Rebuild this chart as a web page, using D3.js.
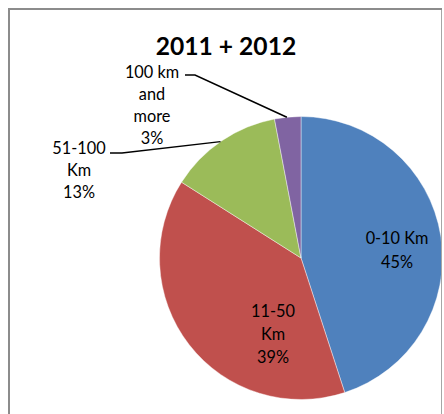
<!DOCTYPE html>
<html>
<head>
<meta charset="utf-8">
<script src="https://cdn.jsdelivr.net/npm/d3@7"></script>
<style>
  html, body { margin: 0; padding: 0; background: #fff; }
  svg { display: block; }
</style>
</head>
<body>
<svg id="chart" width="444" height="414"></svg>
<script>
// Distance bands and their shares (%), clockwise from 12 o'clock
const categories = ["0-10 Km", "11-50 Km", "51-100 Km", "100 km and more"];
const shares = [45, 39, 13, 3];
const colors = ["#4F81BD", "#C0504D", "#9BBB59", "#8064A2"];
// Label text lines for each slice (last line is the percentage)
const labelLines = [["0-10 Km"], ["11-50", "Km"], ["51-100", "Km"], ["100 km", "and", "more"]];
const title = "2011 + 2012";

const W = 444, H = 414;
const cx = 301, cy = 258, R = 141.5;
const font = "Lato, 'Open Sans', sans-serif";

const svg = d3.select("#chart");

// Plot area clip (chart frame)
svg.append("defs").append("clipPath").attr("id", "frame")
  .append("rect").attr("x", 10).attr("y", 10).attr("width", 431).attr("height", H);

const pie = d3.pie().sort(null).value(d => d.value);
const arcs = pie(categories.map((c, i) => ({ name: c, value: shares[i], i })));
const arc = d3.arc().innerRadius(0).outerRadius(R);

const g = svg.append("g").attr("clip-path", "url(#frame)")
  .append("g").attr("transform", `translate(${cx},${cy})`);

g.selectAll("path.slice").data(arcs).enter().append("path")
  .attr("class", "slice")
  .attr("d", arc)
  .attr("fill", d => colors[d.data.i])
  .attr("stroke", "#ffffff")
  .attr("stroke-width", 0.6)
  .attr("stroke-opacity", 0.7);

// Label placement: inside labels over their slices, outside ones with leaders
const labelPos = [
  { x: 397, y: 238, lh: 24 },
  { x: 273, y: 311, lh: 23 },
  { x: 79, y: 148, lh: 22 },
  { x: 152, y: 72, lh: 22 }
];

const labels = svg.append("g").attr("font-family", font).attr("font-size", 16.3).attr("fill", "#000");
arcs.forEach((a, k) => {
  const p = labelPos[k];
  const lines = labelLines[k].concat([shares[k] + "%"]);
  const t = labels.append("text").attr("text-anchor", "middle");
  lines.forEach((s, j) => {
    t.append("tspan").attr("x", p.x).attr("y", p.y + j * p.lh).attr("dy", "0.35em").text(s);
  });
});

// Leader lines for the two small slices, ending on the slice's outer edge
function edgePoint(a, frac) {
  const ang = a.startAngle + (a.endAngle - a.startAngle) * frac;
  return [cx + R * Math.sin(ang), cy - R * Math.cos(ang)];
}
const leaders = [
  { k: 2, start: [110, 153], knee: [122, 153], frac: 0.49 },
  { k: 3, start: [185, 75], knee: [195, 75], frac: 0.47 }
];
const line = d3.line();
leaders.forEach(L => {
  const end = edgePoint(arcs[L.k], L.frac);
  svg.append("path")
    .attr("d", line([L.start, L.knee, end]))
    .attr("fill", "none")
    .attr("stroke", "#000")
    .attr("stroke-width", 1.5);
});

// Title
svg.append("text")
  .attr("x", 226).attr("y", 55)
  .attr("text-anchor", "middle")
  .attr("font-family", font)
  .attr("font-weight", "bold")
  .attr("font-size", 24.6)
  .text(title);

// Chart frame
svg.append("line").attr("x1", 9).attr("y1", 9).attr("x2", 9).attr("y2", H)
  .attr("stroke", "#8c8c8c").attr("stroke-width", 2);
svg.append("line").attr("x1", 8).attr("y1", 9).attr("x2", 442).attr("y2", 9)
  .attr("stroke", "#8c8c8c").attr("stroke-width", 2);
svg.append("line").attr("x1", 441.5).attr("y1", 10).attr("x2", 441.5).attr("y2", H)
  .attr("stroke", "#a6a6a6").attr("stroke-width", 1);
</script>
</body>
</html>
